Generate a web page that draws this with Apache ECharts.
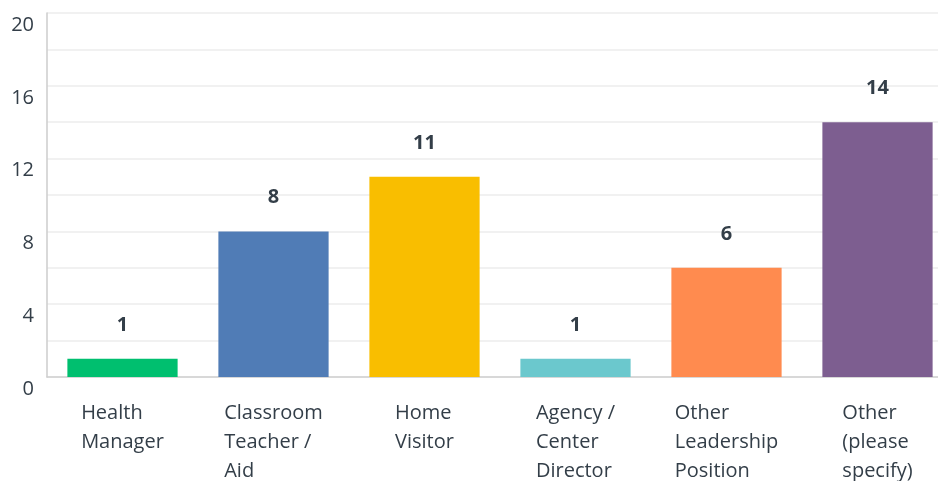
<!DOCTYPE html>
<html>
<head>
<meta charset="utf-8">
<script src="https://cdn.jsdelivr.net/npm/echarts@6/dist/echarts.min.js"></script>
<style>
  html, body { margin: 0; padding: 0; background: #fff; }
  #chart { width: 938px; height: 481px; }
</style>
</head>
<body>
<div id="chart"></div>
<script>
const categories = [
  "Health\nManager",
  "Classroom\nTeacher /\nAid",
  "Home\nVisitor",
  "Agency /\nCenter\nDirector",
  "Other\nLeadership\nPosition",
  "Other\n(please\nspecify)"
];
const counts = [1, 8, 11, 1, 6, 14];
const barColors = ["#00bf6f", "#507cb6", "#f9be00", "#6bc8cd", "#ff8b4f", "#7d5e90"];

const textColor = "#333e48";
const font = "Open Sans";

const chart = echarts.init(document.getElementById("chart"), null, { renderer: "canvas" });

chart.setOption({
  animation: false,
  backgroundColor: "#fff",
  // plot runs a bit past the right edge, as in the source
  grid: { left: 47, width: 906, top: 13, bottom: 104, outerBoundsMode: "none", containLabel: false },
  xAxis: {
    type: "category",
    data: categories,
    axisTick: { show: false },
    axisLine: { lineStyle: { color: "#d0d0d0", width: 1.5 } },
    axisLabel: {
      margin: 22,
      formatter: (v) => v.split("\n").map((s) => "{a|" + s + "}").join("\n"),
      rich: {
        a: { align: "left", color: textColor, fontSize: 20, fontFamily: font, lineHeight: 29 }
      }
    }
  },
  yAxis: {
    type: "value",
    min: 0,
    max: 20,
    interval: 2,
    axisLine: { show: true, lineStyle: { color: "#cccccc", width: 1.5 } },
    axisTick: { show: false },
    splitLine: { lineStyle: { color: "#ececec", width: 1.5 } },
    axisLabel: {
      margin: 13,
      verticalAlign: "top",
      padding: [2, 0, 0, 0],
      color: textColor,
      fontSize: 20,
      fontFamily: font,
      formatter: (v) => (v % 4 === 0 ? String(v) : "")
    }
  },
  series: [
    {
      type: "bar",
      barCategoryGap: "27%",
      data: counts.map((v, i) => ({ value: v, itemStyle: { color: barColors[i] } })),
      label: {
        show: true,
        position: "top",
        distance: 24,
        color: textColor,
        fontSize: 20,
        fontWeight: "bold",
        fontFamily: font
      }
    }
  ]
});
</script>
</body>
</html>
